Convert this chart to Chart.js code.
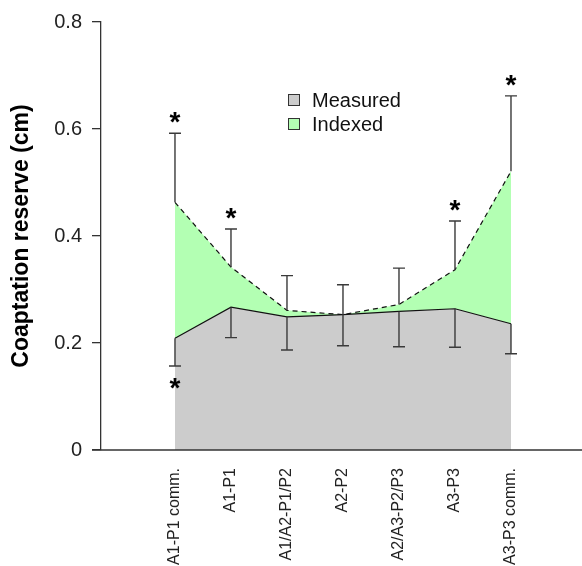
<!DOCTYPE html>
<html>
<head>
<meta charset="utf-8">
<script src="https://cdn.jsdelivr.net/npm/chart.js@4.4.1/dist/chart.umd.min.js"></script>
<style>
    html, body { margin: 0; padding: 0; background: #fff; }
    #chart { display: block; }
</style>
</head>
<body>
<canvas id="chart" width="582" height="566"></canvas>
<script>
// chart data
const categories = ['A1-P1 comm.', 'A1-P1', 'A1/A2-P1/P2', 'A2-P2', 'A2/A3-P2/P3', 'A3-P3', 'A3-P3 comm.'];
const measured = [0.209, 0.267, 0.249, 0.253, 0.259, 0.264, 0.236];
const measuredLower = [0.157, 0.210, 0.187, 0.195, 0.193, 0.192, 0.180];
const indexed = [0.463, 0.342, 0.261, 0.253, 0.272, 0.337, 0.521];
const indexedUpper = [0.592, 0.413, 0.326, 0.309, 0.340, 0.428, 0.662];
const starAbove = [true, true, false, false, false, true, true];
const starBelow = [true, false, false, false, false, false, false];
const yTicks = [0, 0.2, 0.4, 0.6, 0.8];
const seriesNames = ['Measured', 'Indexed'];

const FONT = "'Liberation Sans', Arial, sans-serif";
const AXIS_COLOR = '#333';
const GRAY = '#cccccc';
const GREEN = '#b3ffb3';

// error bars, asterisks, legend and the x axis line
const extrasPlugin = {
    id: 'extras',
    afterDatasetsDraw: function (chart) {
        const ctx = chart.ctx;
        const xs = chart.scales.x;
        const ys = chart.scales.y;
        const cap = 6;

        ctx.save();
        ctx.strokeStyle = '#3a3a3a';
        ctx.lineWidth = 1.4;
        categories.forEach(function (c, i) {
            const x = xs.getPixelForValue(i);
            const yTop = ys.getPixelForValue(indexedUpper[i]);
            const yIdx = ys.getPixelForValue(indexed[i]);
            const yMea = ys.getPixelForValue(measured[i]);
            const yLow = ys.getPixelForValue(measuredLower[i]);
            ctx.beginPath();
            ctx.moveTo(x, yIdx); ctx.lineTo(x, yTop);
            ctx.moveTo(x - cap, yTop); ctx.lineTo(x + cap, yTop);
            ctx.moveTo(x, yMea); ctx.lineTo(x, yLow);
            ctx.moveTo(x - cap, yLow); ctx.lineTo(x + cap, yLow);
            ctx.stroke();

            ctx.fillStyle = '#000';
            ctx.font = 'bold 28px ' + FONT;
            ctx.textAlign = 'center';
            ctx.textBaseline = 'alphabetic';
            if (starAbove[i]) {
                ctx.fillText('*', x, yTop - 2);
            }
            if (starBelow[i]) {
                ctx.fillText('*', x, yLow + 31);
            }
        });

        // x axis line, runs from the y tick marks to the right edge
        ctx.strokeStyle = AXIS_COLOR;
        ctx.lineWidth = 1.3;
        ctx.beginPath();
        ctx.moveTo(chart.chartArea.left - 9, ys.getPixelForValue(0));
        ctx.lineTo(chart.width, ys.getPixelForValue(0));
        ctx.stroke();

        // legend
        const colors = [GRAY, GREEN];
        ctx.font = '20px ' + FONT;
        ctx.textAlign = 'left';
        ctx.textBaseline = 'middle';
        seriesNames.forEach(function (name, k) {
            const cy = 100 + k * 24;
            ctx.fillStyle = colors[k];
            ctx.fillRect(288.5, cy - 5.5, 11, 11);
            ctx.lineWidth = 1;
            ctx.strokeStyle = '#333';
            ctx.strokeRect(288.5, cy - 5.5, 11, 11);
            ctx.fillStyle = '#111';
            ctx.fillText(name, 312, cy + 1);
        });
        ctx.restore();
    }
};

new Chart(document.getElementById('chart'), {
    type: 'line',
    data: {
        datasets: [{
            label: seriesNames[0],
            data: measured.map((v, i) => ({ x: i, y: v })),
            borderColor: '#111',
            borderWidth: 1.2,
            backgroundColor: GRAY,
            fill: 'origin',
            pointRadius: 0,
            tension: 0
        }, {
            label: seriesNames[1],
            data: indexed.map((v, i) => ({ x: i, y: v })),
            borderColor: '#111',
            borderWidth: 1.2,
            borderDash: [5, 4],
            backgroundColor: GREEN,
            fill: '-1',
            pointRadius: 0,
            tension: 0
        }]
    },
    options: {
        responsive: false,
        animation: false,
        devicePixelRatio: 1,
        layout: { padding: { top: 21, left: 0, right: 0, bottom: 0 } },
        plugins: {
            legend: { display: false },
            tooltip: { enabled: false }
        },
        scales: {
            x: {
                type: 'linear',
                min: -1.321,
                max: 7.268,
                grid: { display: false, drawTicks: false },
                border: { display: false },
                afterBuildTicks: function (axis) {
                    axis.ticks = categories.map((c, i) => ({ value: i }));
                },
                afterFit: function (scale) { scale.height = 116; },
                ticks: {
                    autoSkip: false,
                    maxRotation: 90,
                    minRotation: 90,
                    padding: 18,
                    color: '#222',
                    font: { family: FONT, size: 16 },
                    callback: function (v) { return categories[v] || ''; }
                }
            },
            y: {
                min: 0,
                max: 0.8,
                afterBuildTicks: function (axis) {
                    axis.ticks = yTicks.map(v => ({ value: v }));
                },
                afterFit: function (scale) { scale.width = 101; },
                grid: {
                    drawOnChartArea: false,
                    drawTicks: true,
                    tickLength: 9,
                    color: AXIS_COLOR,
                    lineWidth: 1.3
                },
                border: { display: true, color: AXIS_COLOR, width: 1.3 },
                ticks: {
                    padding: 10,
                    color: '#222',
                    font: { family: FONT, size: 20 },
                    callback: function (v) { return v === 0 ? '0' : v.toFixed(1); }
                },
                title: {
                    display: true,
                    text: 'Coaptation reserve (cm)',
                    color: '#000',
                    font: { family: FONT, size: 23, weight: 'bold' },
                    padding: { top: 8, bottom: 0 }
                }
            }
        }
    },
    plugins: [extrasPlugin]
});
</script>
</body>
</html>
